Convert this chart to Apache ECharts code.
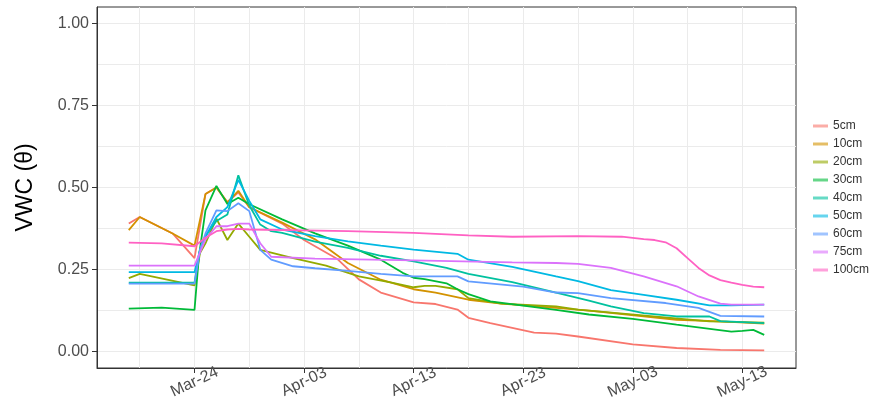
<!DOCTYPE html>
<html>
<head>
<meta charset="utf-8">
<script src="https://cdn.jsdelivr.net/npm/echarts@6/dist/echarts.min.js"></script>
<style>
  html, body { margin: 0; padding: 0; background: #fff; }
  #chart { width: 874px; height: 406px; }
</style>
</head>
<body>
<div id="chart"></div>
<script>
// x = days since Mar-24
const tickDays = [0, 10, 20, 30, 40, 50]
const tickLabels = ['Mar-24', 'Apr-03', 'Apr-13', 'Apr-23', 'May-03', 'May-13']
const gridDays = [-5, 0, 5, 10, 15, 20, 25, 30, 35, 40, 45, 50]
const yTicks = [0, 0.25, 0.5, 0.75, 1]
const yGrid = [0, 0.125, 0.25, 0.375, 0.5, 0.625, 0.75, 0.875, 1]

const depths = ['5cm', '10cm', '20cm', '30cm', '40cm', '50cm', '60cm', '75cm', '100cm']
const colors = ['#F8766D', '#D39200', '#93AA00', '#00BA38', '#00C19F', '#00B9E3', '#619CFF', '#DB72FB', '#FF61C3']

const s5cm = [[-6,0.39],[-5,0.41],[-2,0.36],[0,0.285],[1,0.48],[2,0.50],[3,0.455],[4,0.485],[5,0.44],[8,0.39],[10,0.34],[13,0.283],[15,0.22],[17,0.18],[20,0.15],[22,0.145],[24,0.128],[25,0.103],[27,0.087],[31,0.058],[33,0.055],[35,0.046],[40,0.022],[44,0.011],[48,0.005],[52,0.004]]
const s10cm = [[-6,0.37],[-5,0.41],[-2,0.36],[0,0.323],[1,0.48],[2,0.50],[3,0.455],[4,0.49],[5,0.44],[8,0.393],[11,0.342],[14,0.27],[17,0.219],[20,0.19],[22,0.18],[25,0.158],[28,0.146],[33,0.133],[36,0.125],[44,0.097],[48,0.092],[52,0.085]]
const s20cm = [[-6,0.224],[-5,0.237],[0,0.202],[0.5,0.30],[1,0.33],[2,0.405],[3,0.34],[4,0.39],[5,0.35],[6,0.31],[9,0.285],[12,0.262],[15,0.229],[18,0.21],[20,0.196],[21,0.20],[22,0.20],[24,0.19],[25,0.163],[28,0.146],[33,0.138],[35,0.128],[47,0.092],[52,0.088]]
const s30cm = [[-6,0.131],[-3,0.134],[0,0.127],[0.4,0.29],[1,0.43],[2,0.505],[3,0.45],[4,0.469],[5,0.449],[8,0.403],[11,0.36],[14,0.323],[17,0.28],[19,0.24],[20,0.225],[21,0.221],[23,0.208],[24,0.19],[25,0.175],[27,0.153],[30,0.14],[33,0.127],[36,0.113],[40,0.10],[44,0.082],[49,0.061],[50,0.063],[51,0.066],[52,0.051]]
const s40cm = [[-6,0.21],[0,0.21],[0.5,0.31],[1,0.352],[2,0.398],[3,0.418],[4,0.537],[5,0.445],[6,0.387],[7,0.367],[8,0.362],[11,0.335],[14,0.316],[17,0.292],[20,0.275],[23,0.255],[25,0.237],[29,0.212],[33,0.18],[36,0.155],[38,0.138],[41,0.117],[44,0.107],[47,0.107],[48,0.093],[52,0.087]]
const s50cm = [[-6,0.242],[0,0.242],[0.5,0.31],[1,0.35],[2,0.41],[3,0.44],[4,0.523],[5,0.459],[6,0.403],[8,0.372],[11,0.352],[14,0.336],[17,0.323],[20,0.311],[24,0.298],[25,0.28],[29,0.258],[33,0.229],[35,0.215],[38,0.187],[41,0.173],[44,0.158],[47,0.141],[49,0.141],[52,0.143]]
const s60cm = [[-6,0.207],[0,0.207],[0.5,0.31],[1,0.36],[2,0.43],[3,0.428],[4,0.452],[5,0.428],[6,0.31],[7,0.28],[9,0.26],[11,0.254],[14,0.246],[17,0.237],[20,0.229],[24,0.229],[25,0.214],[30,0.198],[33,0.18],[35,0.178],[38,0.163],[43,0.148],[46,0.133],[48,0.109],[52,0.107]]
const s75cm = [[-6,0.262],[0,0.262],[1,0.342],[2,0.382],[3,0.382],[4,0.39],[5,0.39],[6,0.33],[7,0.289],[11,0.283],[20,0.278],[29,0.272],[33,0.27],[35,0.267],[38,0.255],[41,0.229],[44,0.199],[46,0.168],[48,0.146],[49,0.143],[52,0.143]]
const s100cm = [[-6,0.332],[-3,0.33],[0,0.321],[1,0.347],[2,0.367],[3,0.372],[4,0.374],[5,0.372],[14,0.367],[20,0.362],[25,0.354],[29,0.35],[35,0.352],[39,0.35],[41,0.343],[42,0.34],[43,0.333],[44,0.315],[45,0.285],[46,0.255],[47,0.232],[48,0.218],[49,0.21],[50,0.203],[51,0.198],[52,0.196]]

const seriesData = [s5cm, s10cm, s20cm, s30cm, s40cm, s50cm, s60cm, s75cm, s100cm]

const chart = echarts.init(document.getElementById('chart'), null, {renderer: 'canvas'})

const font = 'Liberation Sans, Arial, sans-serif'

const option = {
  animation: false,
  color: colors,
  textStyle: {fontFamily: font},
  grid: {
    left: 97, right: 78, top: 7, bottom: 38,
    show: true, borderColor: '#333333', borderWidth: 1, backgroundColor: '#fff'
  },
  legend: {
    orient: 'vertical',
    left: 813, top: 119, padding: 0,
    icon: 'rect',
    itemWidth: 15, itemHeight: 3, itemGap: 4,
    itemStyle: {opacity: 0.6},
    textStyle: {fontSize: 12, color: '#333', fontFamily: font, lineHeight: 14},
    data: depths
  },
  xAxis: [
    {
      type: 'value', min: -8.9, max: 54.9, position: 'bottom',
      axisLine: {show: true, onZero: false, lineStyle: {color: '#333', width: 1}},
      axisTick: {show: true, inside: false, length: 5, customValues: tickDays, lineStyle: {color: '#333', width: 1}},
      axisLabel: {
        customValues: tickDays,
        rotate: 25, fontSize: 16, color: '#4D4D4D', fontFamily: font,
        margin: 14, align: 'center', verticalAlign: 'middle',
        formatter: v => tickLabels[tickDays.indexOf(v)]
      },
      splitLine: {show: false}
    },
    {
      type: 'value', min: -8.9, max: 54.9, position: 'top',
      axisLine: {show: false, onZero: false}, axisLabel: {show: false},
      axisTick: {show: false, customValues: gridDays},
      splitLine: {show: true, lineStyle: {color: '#ebebeb', width: 1}}
    }
  ],
  yAxis: [
    {
      type: 'value', min: -0.05, max: 1.05, position: 'left',
      name: 'VWC (θ)', nameLocation: 'middle', nameGap: 60, nameRotate: 90,
      nameTextStyle: {fontSize: 23, color: '#000', fontFamily: font},
      axisLine: {show: true, onZero: false, lineStyle: {color: '#333', width: 1}},
      axisTick: {show: true, inside: false, length: 5, customValues: yTicks, lineStyle: {color: '#333', width: 1}},
      axisLabel: {
        customValues: yTicks, fontSize: 16, color: '#4D4D4D', fontFamily: font, margin: 8,
        formatter: v => v.toFixed(2)
      },
      splitLine: {show: false}
    },
    {
      type: 'value', min: -0.05, max: 1.05, position: 'right',
      axisLine: {show: false, onZero: false}, axisLabel: {show: false},
      axisTick: {show: false, customValues: yGrid},
      splitLine: {show: true, lineStyle: {color: '#ebebeb', width: 1}}
    }
  ],
  series: depths.map((name, i) => ({
    name: name,
    type: 'line',
    xAxisIndex: 0,
    yAxisIndex: 0,
    data: seriesData[i],
    symbol: 'none',
    lineStyle: {width: 1.8},
    z: 2 + i
  }))
}

chart.setOption(option)
</script>
</body>
</html>
